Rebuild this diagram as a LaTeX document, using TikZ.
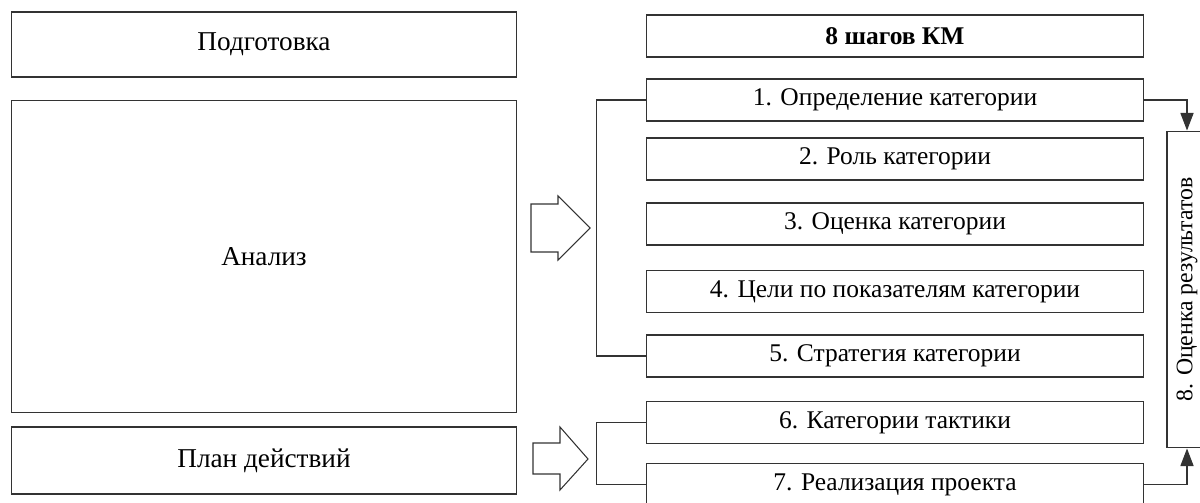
\documentclass[tikz,border=0pt]{standalone}
\usepackage{fontspec}
\setmainfont{Liberation Serif}
\usetikzlibrary{arrows.meta}

\tikzset{
  stage/.style={draw=black!80, line width=0.6pt, minimum width=10.12cm, inner sep=0pt, font=\fontsize{15.5}{18}\selectfont},
  kmstep/.style={draw=black!80, line width=0.6pt, minimum width=9.96cm, minimum height=0.84cm, inner sep=0pt, font=\fontsize{14.5}{17}\selectfont},
  link/.style={draw=black!80, line width=0.6pt},
}

\begin{document}
\begin{tikzpicture}[x=0.02cm, y=-0.02cm]
        \useasboundingbox (0,0) rectangle (1200,503);

          % left column
        \node[stage, minimum height=1.3cm]  (prep) at (264,44.5)  {Подготовка};
        \node[stage, minimum height=6.26cm] (anal) at (264,256.5) {Анализ};
        \node[stage, minimum height=1.34cm] (plan) at (264,460.5) {План действий};

          % the 8 steps
        \node[kmstep, font=\fontsize{14.5}{17}\selectfont\bfseries] (km) at (895,36) {8 шагов КМ};
        \node[kmstep] (s1) at (895,100)   {1. Определение категории};
        \node[kmstep] (s2) at (895,159)   {2. Роль категории};
        \node[kmstep] (s3) at (895,224)   {3. Оценка категории};
        \node[kmstep] (s4) at (895,291.5) {4. Цели по показателям категории};
        \node[kmstep] (s5) at (895,356)   {5. Стратегия категории};
        \node[kmstep] (s6) at (895,422.5) {6. Категории тактики};
        \node[kmstep] (s7) at (895,484.5) {7. Реализация проекта};
        \node[kmstep, minimum width=0.8cm, minimum height=6.34cm, font=\fontsize{13.5}{16}\selectfont] (s8) at (1187,289.5) {\rotatebox{90}{8. Оценка результатов}};

          % brackets
        \draw[link] (s1.west) -- ++(-49,0) |- (s5.west);
        \draw[link] (s6.west) -- ++(-49,0) |- (s7.west);

          % arrows to step 8
        \draw[link, -{Triangle[length=10pt, width=7.5pt]}] (s1.east) -| (s8.north);
        \draw[link, -{Triangle[length=10pt, width=7.5pt]}] (s7.east) -| (s8.south);

          % hollow arrows
        \draw[link, line join=miter] (531,204) -- (558,204) -- (558,196) -- (590,228) -- (558,260) -- (558,252) -- (531,252) -- cycle;
        \draw[link, line join=miter] (533,443) -- (560,443) -- (560,427) -- (588,459) -- (560,490) -- (560,474) -- (533,474) -- cycle;

\end{tikzpicture}
\end{document}
